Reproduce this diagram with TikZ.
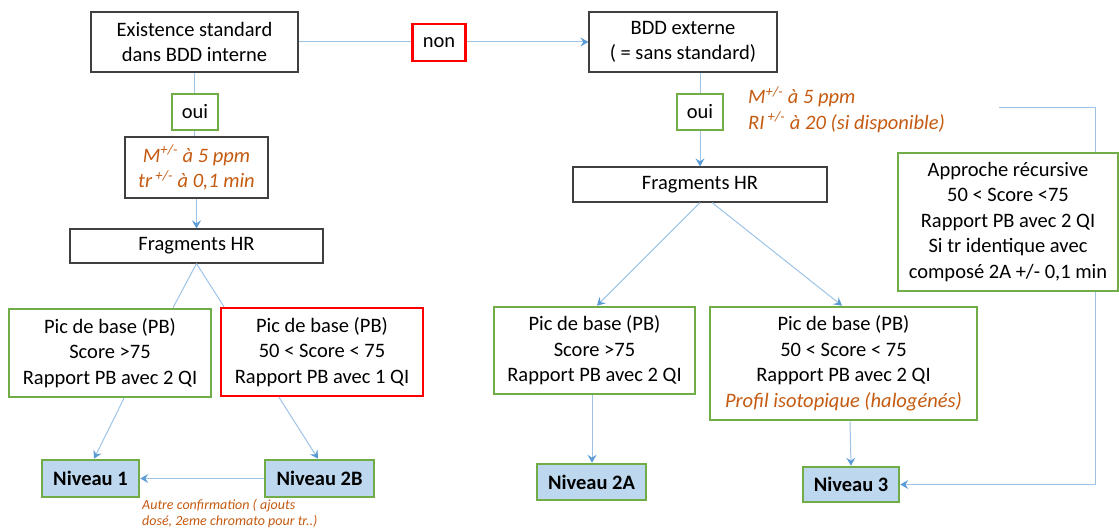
\documentclass[tikz,border=0pt]{standalone}
\usepackage{fontspec}
\setmainfont{Carlito}
\usetikzlibrary{arrows.meta}
\definecolor{lblue}{HTML}{9DC3E6}
\definecolor{tipblue}{HTML}{5B9BD5}
\definecolor{gbord}{HTML}{70AD47}
\definecolor{orng}{HTML}{C55A11}
\definecolor{nivfill}{HTML}{BDD7EE}
\definecolor{dgray}{HTML}{404040}
\tikzset{
  sz/.style 2 args={minimum width=#1, minimum height=#2},
  base/.style={align=center, inner sep=0pt, font=\fontsize{20.5}{25.5}\selectfont},
  plainbox/.style={base, draw=dgray, line width=1.2pt, fill=white},
  greenbox/.style={base, draw=gbord, line width=2.6pt, fill=white},
  redbox/.style={base, draw=red, line width=2.6pt, fill=white},
  nivbox/.style={base, draw=gbord, line width=2.6pt, fill=nivfill, font=\fontsize{20.5}{25.5}\selectfont\bfseries},
  conn/.style={draw=lblue, line width=1pt},
  arr/.style={conn, -{Stealth[length=8pt,width=9pt,inset=3pt,color=tipblue]}},
  orangeit/.style={text=orng, font=\fontsize{20.5}{25.5}\selectfont\itshape},
}
\begin{document}
\begin{tikzpicture}[x=1pt,y=-1pt]
\useasboundingbox (0,0) rectangle (1119,532);

% top row
\node[plainbox, sz={207pt}{60pt}] (exist) at (194.5,42) {Existence standard\\dans BDD interne};
\node[plainbox, sz={188pt}{60pt}] (ext) at (683,42) {BDD externe\\( = sans standard)};
\draw[arr] (exist.east) -- (ext.west);
\node[redbox, sz={53pt}{37pt}] (non) at (439,42.5) {non};

% left branch
\node[plainbox, sz={143pt}{61pt}, orangeit] (mbox) at (196.5,167.5) {M\textsuperscript{+/-} à 5 ppm\\tr\textsuperscript{ +/-} à 0,1 min};
\draw[conn] (exist.south) -- (exist.south |- mbox.north);
\node[greenbox, sz={46pt}{36pt}] (oui1) at (195,112) {oui};
\node[plainbox, sz={253pt}{34pt}] (frag1) at (196.5,246) {Fragments HR};
\draw[arr] (mbox.south) -- (frag1.north);

\node[greenbox, sz={202pt}{88pt}] (pic1) at (110,353) {Pic de base (PB)\\Score >75\\Rapport PB avec 2 QI};
\node[redbox, sz={202pt}{88pt}] (pic2) at (322,352) {Pic de base (PB)\\50 < Score < 75\\Rapport PB avec 1 QI};
\draw[conn] (frag1.south) -- ([xshift=63pt]pic1.north);
\draw[conn] (frag1.south) -- ([xshift=-98pt]pic2.north);

\node[nivbox, sz={97pt}{37pt}] (niv1) at (90.5,478.5) {Niveau 1};
\node[nivbox, sz={109pt}{37pt}] (niv2b) at (319.5,478.5) {Niveau 2B};
\draw[arr] ([xshift=14pt]pic1.south) -- ([xshift=3.5pt]niv1.north);
\draw[arr] ([xshift=-43pt]pic2.south) -- ([xshift=-1.5pt]niv2b.north);
\draw[arr, line width=1.6pt] (niv2b.west) -- (niv1.east);
\node[anchor=north west, align=left, inner sep=0pt, text=orng, font=\fontsize{14}{16}\selectfont\itshape] (autre) at (142,499) {Autre confirmation ( ajouts\\dosé, 2eme chromato pour tr..)};

% right branch
\node[plainbox, sz={254pt}{35pt}] (frag2) at (700,184.5) {Fragments HR};
\draw[arr] ([xshift=17pt]ext.south) -- (frag2.north);
\node[greenbox, sz={46pt}{36pt}] (oui2) at (700,112) {oui};
\node[anchor=west, align=left, inner sep=0pt, orangeit] (mri) at (748,109.5) {M\textsuperscript{+/-} à 5 ppm\\RI\textsuperscript{ +/-} à 20 (si disponible)};

\node[greenbox, sz={201pt}{87pt}] (pic3) at (594.5,350.5) {Pic de base (PB)\\Score >75\\Rapport PB avec 2 QI};
\node[greenbox, sz={267pt}{113pt}] (pic4) at (843.5,363.5) {Pic de base (PB)\\50 < Score < 75\\Rapport PB avec 2 QI\\{\color{orng}\itshape Profil isotopique (halogénés)}};
\draw[arr] (frag2.south) -- ([xshift=2.5pt]pic3.north);
\draw[arr] ([xshift=12pt]frag2.south) -- ([xshift=-1.5pt]pic4.north);

\node[nivbox, sz={109pt}{36pt}] (niv2a) at (591.5,482) {Niveau 2A};
\node[nivbox, sz={96pt}{35pt}] (niv3) at (851,484.5) {Niveau 3};
\draw[arr] ([xshift=-2.5pt]pic3.south) -- ([xshift=0.5pt]niv2a.north);
\draw[arr] ([xshift=6.5pt]pic4.south) -- (niv3.north);

\node[greenbox, sz={220pt}{138pt}] (appr) at (1008,222) {Approche récursive\\50 < Score <75\\Rapport PB avec 2 QI\\Si tr identique avec\\composé 2A +/- 0,1 min};
\coordinate (free) at (999,108);
\draw[conn] (free) -| ([xshift=87pt]appr.north);
\draw[arr] ([xshift=87pt]appr.south) |- (niv3.east);
\end{tikzpicture}
\end{document}
